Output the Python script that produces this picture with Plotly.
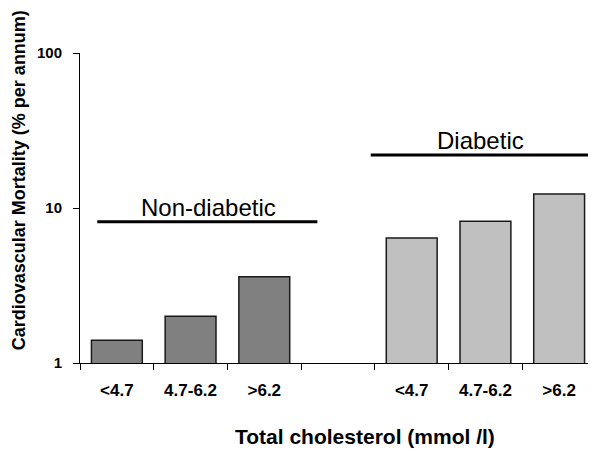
import plotly.graph_objects as go

# ---- data ----
categories = ["<4.7", "4.7-6.2", ">6.2"]
non_diabetic = [1.4, 2.0, 3.6]
diabetic = [6.4, 8.2, 12.3]
group_labels = ["Non-diabetic", "Diabetic"]
y_tick_vals = [1, 10, 100]
y_tick_text = ["1", "10", "100"]

# slot positions: three non-diabetic slots, one empty slot, three diabetic slots
nd_pos = [0, 1, 2]
d_pos = [4, 5, 6]

FONT = "Liberation Sans, Arial, sans-serif"

fig = go.Figure()
fig.add_trace(go.Bar(
    x=nd_pos, y=non_diabetic, width=0.69,
    marker=dict(color="#808080", line=dict(color="#1a1a1a", width=1.5)),
    showlegend=False,
))
fig.add_trace(go.Bar(
    x=d_pos, y=diabetic, width=0.69,
    marker=dict(color="#c0c0c0", line=dict(color="#1a1a1a", width=1.5)),
    showlegend=False,
))

# group bracket lines (drawn through the axes)
fig.add_trace(go.Scatter(
    x=[-0.265, 2.72], y=[8.16, 8.16], mode="lines",
    line=dict(color="black", width=3), showlegend=False, hoverinfo="skip",
))
fig.add_trace(go.Scatter(
    x=[3.444, 6.43], y=[22.0, 22.0], mode="lines",
    line=dict(color="black", width=3), showlegend=False, hoverinfo="skip",
))

annotations = [
    dict(text=group_labels[0], x=1.237, y=0.501, xref="x", yref="paper",
         showarrow=False, xanchor="center", yanchor="middle",
         font=dict(family=FONT, size=24, color="black")),
    dict(text=group_labels[1], x=4.93, y=0.717, xref="x", yref="paper",
         showarrow=False, xanchor="center", yanchor="middle",
         font=dict(family=FONT, size=24, color="black")),
    dict(text="Cardiovascular Mortality (% per annum)", x=-0.118, y=0.59,
         xref="paper", yref="paper", textangle=-90, showarrow=False,
         xanchor="center", yanchor="middle",
         font=dict(family=FONT, size=18, color="black", weight="bold")),
    dict(text="Total cholesterol (mmol /l)", x=0.5516, y=-0.236,
         xref="paper", yref="paper", showarrow=False,
         xanchor="center", yanchor="middle", borderpad=0,
         font=dict(family=FONT, size=21, color="black", weight="bold")),
]

# the page body has an 8px margin, so the figure is 8px smaller than the window
fig.update_layout(
    width=588, height=443,
    margin=dict(l=72, r=0, t=45, b=88),
    paper_bgcolor="white", plot_bgcolor="white",
    barmode="overlay",
    annotations=annotations,
    xaxis=dict(
        range=[-0.5, 6.5],
        tickmode="array",
        tickvals=nd_pos + d_pos,
        ticktext=categories + categories,
        ticks="",
        ticklabelstandoff=12,
        tickfont=dict(family=FONT, size=17, color="black", weight="bold"),
        showline=True, linecolor="black", linewidth=1,
        showgrid=False, zeroline=False,
        minor=dict(tick0=-0.5, dtick=1, ticks="outside", ticklen=6,
                   tickcolor="black", tickwidth=1, showgrid=False),
    ),
    yaxis=dict(
        type="log", range=[0, 2],
        tickmode="array", tickvals=y_tick_vals, ticktext=y_tick_text,
        ticks="outside", ticklen=6, tickcolor="black",
        ticklabelstandoff=8,
        tickfont=dict(family=FONT, size=15, color="black", weight="bold"),
        showline=True, linecolor="black", linewidth=1,
        showgrid=False, zeroline=False,
    ),
)

fig.write_html("out.html")
